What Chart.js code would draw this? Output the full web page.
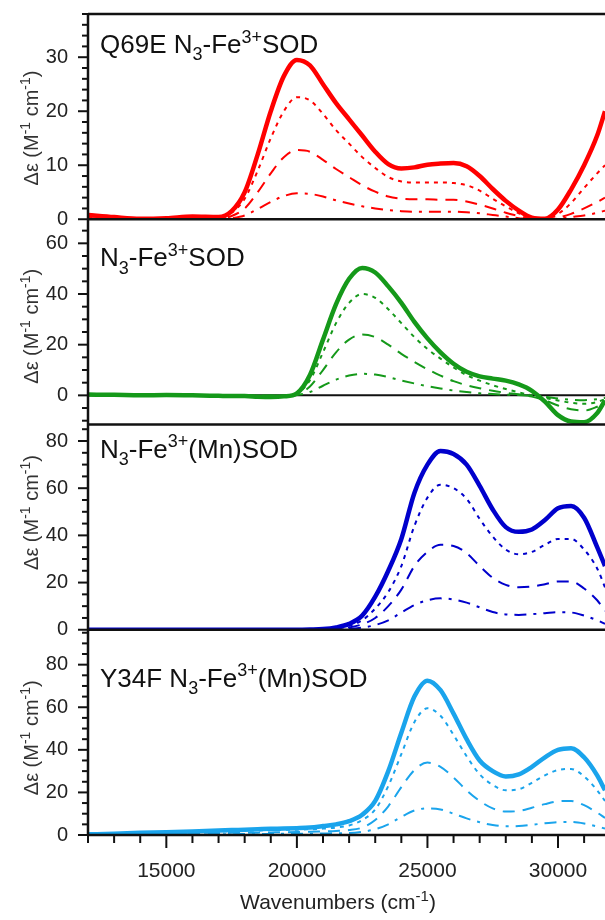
<!DOCTYPE html>
<html>
<head>
<meta charset="utf-8">
<script src="https://cdn.jsdelivr.net/npm/chart.js@4.4.1/dist/chart.umd.min.js"></script>
<style>
  html, body { margin: 0; padding: 0; background: #fff; }
</style>
</head>
<body>
<canvas id="cdChart" width="605" height="920"></canvas>
<script>
const wavenumbers = [
  12000, 13000, 14000, 15000, 16000, 17000,
  17500, 18000, 18500, 19000, 19500,
  20000, 20500, 21000, 21500, 22000,
  22500, 23000, 23500, 24000, 24500,
  25000, 25500, 26000, 26500, 27000,
  27500, 28000, 28500, 29000, 29500,
  30000, 30500, 31000, 31500, 31800
];
const xTickLabels = [15000, 20000, 25000, 30000];

// Q69E N3-Fe3+SOD
const q69eSolid = [0.8, 0.4, 0.1, 0.2, 0.5, 0.4, 1.5, 5, 12, 20, 26.5, 29.5, 28.5, 25, 21.5, 18.5, 15.5, 12.5, 10.2, 9.4, 9.6, 10.1, 10.3, 10.4, 9.8, 8, 5.6, 3.4, 1.6, 0.3, 0.1, 1.8, 5.5, 10, 15.5, 20];
const q69eDotted = [0.3, 0.2, 0.1, 0.1, 0.2, 0.2, 1.2, 3.8, 9, 15, 20, 22.6, 22, 19.5, 16.5, 14, 11.5, 9.5, 7.8, 7, 6.8, 6.8, 6.8, 6.7, 6.3, 5.3, 3.8, 2.4, 1.1, 0.3, 0.1, 1, 3, 5.8, 8.5, 10];
const q69eDashed = [0.2, 0.1, 0, 0, 0.1, 0.1, 0.6, 2, 5, 8.5, 11.5, 12.8, 12.5, 11, 9.3, 7.8, 6.3, 5.1, 4.2, 3.8, 3.7, 3.7, 3.6, 3.6, 3.3, 2.7, 2, 1.2, 0.6, 0.1, 0, 0.3, 1, 2, 3.2, 4];
const q69eDashDot = [0.1, 0, 0, 0, 0, 0, 0.2, 0.7, 1.9, 3.2, 4.3, 4.8, 4.7, 4.2, 3.5, 2.9, 2.4, 2, 1.7, 1.5, 1.4, 1.4, 1.4, 1.4, 1.3, 1.1, 0.8, 0.5, 0.2, 0, 0, 0.1, 0.4, 0.7, 1.2, 1.6];

// N3-Fe3+SOD
const wtSolid = [0.3, 0.2, 0, 0.1, 0, -0.2, -0.3, -0.3, -0.5, -0.6, -0.4, 0.8, 8, 22, 36, 46, 50.3, 48.5, 43, 36.5, 29, 22.5, 17, 12.5, 9.3, 7.5, 6.6, 5.8, 4.3, 1.8, -2.5, -7.8, -10.3, -10.6, -7, -2];
const wtDotted = [0.2, 0.1, 0, 0.1, 0, -0.1, -0.2, -0.2, -0.3, -0.4, -0.3, 0.6, 6, 17, 28.5, 36.5, 40, 38.5, 34, 28.5, 23, 18.3, 14.5, 11, 8, 5.8, 4, 2.5, 1.2, 0, -1, -2, -2.9, -3.3, -2.6, -1.5];
const wtDashed = [0.1, 0, 0, 0, 0, -0.1, -0.1, -0.1, -0.2, -0.2, -0.2, 0.3, 3.5, 10, 17, 22, 24, 23, 20, 16.4, 13.2, 10.3, 7.8, 5.6, 4, 2.8, 1.8, 1, 0.4, -0.5, -2, -4, -5.5, -6, -4.5, -3];
const wtDashDot = [0, 0, 0, 0, 0, 0, 0, 0, -0.1, -0.1, -0.1, 0.1, 1.3, 3.8, 6.2, 7.8, 8.5, 8.2, 7.2, 5.9, 4.7, 3.6, 2.7, 1.9, 1.3, 0.8, 0.5, 0.3, 0.1, -0.2, -0.6, -1.2, -1.7, -1.9, -1.5, -1];

// N3-Fe3+(Mn)SOD
const mnSolid = [0, 0, 0, 0, 0, 0, 0, 0, 0, 0, 0, 0, 0.1, 0.3, 1, 2.5, 6, 14, 25, 38.5, 58, 70, 75.8, 74.5, 70, 61, 51, 43.5, 41.5, 42.5, 46.5, 51.5, 52.5, 47.5, 35, 27];
const mnDotted = [0, 0, 0, 0, 0, 0, 0, 0, 0, 0, 0, 0, 0, 0.1, 0.5, 1.7, 4, 9, 16, 27, 44, 56, 61.5, 60, 55.5, 47, 39.5, 34, 32, 33, 36, 38.5, 38.5, 34, 26, 18];
const mnDashed = [0, 0, 0, 0, 0, 0, 0, 0, 0, 0, 0, 0, 0, 0.1, 0.3, 1, 2.3, 5, 10, 17, 27, 33, 36, 35.5, 32.5, 27, 22, 19, 18, 18.3, 19.3, 20.5, 20.5, 17.5, 12.5, 8];
const mnDashDot = [0, 0, 0, 0, 0, 0, 0, 0, 0, 0, 0, 0, 0, 0, 0.1, 0.4, 0.9, 2, 4, 7.3, 10.5, 12.5, 13.3, 12.8, 11.5, 9.5, 7.5, 6.5, 6.3, 6.6, 7, 7.4, 7.3, 6, 4, 2.5];

// Y34F N3-Fe3+(Mn)SOD
const y34fSolid = [0.3, 0.6, 1, 1.3, 1.7, 2.1, 2.3, 2.5, 2.7, 2.9, 3, 3.2, 3.5, 4.2, 5, 6.5, 9.5, 16, 30, 48, 65, 72.5, 68, 57, 45, 35, 30, 27.5, 28.5, 32, 36.5, 40, 40.8, 36.5, 28, 21];
const y34fDotted = [0.2, 0.4, 0.7, 1, 1.3, 1.6, 1.8, 2, 2.1, 2.3, 2.4, 2.5, 2.7, 3, 3.5, 4.5, 7, 12, 23, 38, 53, 59.5, 56, 47, 37, 28.5, 23.5, 21, 21.5, 24.5, 28, 30.5, 31, 27.5, 21, 16];
const y34fDashed = [0.1, 0.2, 0.4, 0.6, 0.8, 0.9, 1, 1, 1.1, 1.2, 1.3, 1.4, 1.5, 1.7, 1.9, 2.3, 3.5, 7, 13.5, 22.5, 30.5, 34, 32, 27, 21, 16, 12.5, 11, 11.3, 12.8, 14.5, 15.8, 16, 14, 10.5, 8];
const y34fDashDot = [0, 0.1, 0.2, 0.3, 0.3, 0.4, 0.4, 0.5, 0.5, 0.5, 0.6, 0.6, 0.6, 0.7, 0.8, 0.9, 1.5, 2.7, 5, 8.5, 11.5, 12.5, 12, 10, 7.8, 6, 4.7, 4.1, 4.2, 4.8, 5.5, 6, 6.1, 5.4, 4, 3];

const FONT = "'Liberation Sans', Arial, sans-serif";

// panels top to bottom
const panels = [
  { id: 'yA', color: '#ff0000', min: 0, max: 38, major: 10, minor: 2,
    series: [q69eSolid, q69eDotted, q69eDashed, q69eDashDot],
    label: [['Q69E N', ''], ['3', 'sub'], ['-Fe', ''], ['3+', 'sup'], ['SOD', '']], labelY: 39, titleY: 114 },
  { id: 'yB', color: '#15991a', min: -11.5, max: 69.5, major: 20, minor: 5, zeroLine: true,
    series: [wtSolid, wtDotted, wtDashed, wtDashDot],
    label: [['N', ''], ['3', 'sub'], ['-Fe', ''], ['3+', 'sup'], ['SOD', '']], labelY: 47, titleY: 107 },
  { id: 'yC', color: '#0000cc', min: 0, max: 87, major: 20, minor: 5,
    series: [mnSolid, mnDotted, mnDashed, mnDashDot],
    label: [['N', ''], ['3', 'sub'], ['-Fe', ''], ['3+', 'sup'], ['(Mn)SOD', '']], labelY: 33, titleY: 88 },
  { id: 'yD', color: '#1aa4ec', min: 0, max: 96.4, major: 20, minor: 5,
    series: [y34fSolid, y34fDotted, y34fDashed, y34fDashDot],
    label: [['Y34F N', ''], ['3', 'sub'], ['-Fe', ''], ['3+', 'sup'], ['(Mn)SOD', '']], labelY: 57, titleY: 108 }
];

const lineStyles = [
  { width: 4.5, dash: [] },
  { width: 2, dash: [4, 5] },
  { width: 2, dash: [12, 8] },
  { width: 2, dash: [12, 7, 3, 7] }
];

const yTitle = [['\u0394\u03b5 (M', ''], ['-1', 'sup'], [' cm', ''], ['-1', 'sup'], [')', '']];
const xTitle = [['Wavenumbers (cm', ''], ['-1', 'sup'], [')', '']];

function drawRich(ctx, x, y, parts, size, align) {
  const fontOf = kind => (kind ? Math.round(size * 0.7) : size) + 'px ' + FONT;
  const widths = parts.map(([t, k]) => { ctx.font = fontOf(k); return ctx.measureText(t).width; });
  const total = widths.reduce((a, b) => a + b, 0);
  let cx = align === 'center' ? x - total / 2 : x;
  parts.forEach(([t, k], i) => {
    ctx.font = fontOf(k);
    const dy = k === 'sub' ? size * 0.28 : k === 'sup' ? -size * 0.4 : 0;
    ctx.fillText(t, cx, y + dy);
    cx += widths[i];
  });
}

function line(ctx, x1, y1, x2, y2) {
  ctx.beginPath();
  ctx.moveTo(x1, y1);
  ctx.lineTo(x2, y2);
  ctx.stroke();
}

const framePlugin = {
  id: 'frame',
  beforeDatasetsDraw(chart) {
    const { ctx, chartArea } = chart;
    ctx.save();
    ctx.strokeStyle = '#111';
    ctx.lineWidth = 2;
    panels.filter(p => p.zeroLine).forEach(p => {
      const y0 = chart.scales[p.id].getPixelForValue(0);
      line(ctx, chartArea.left, y0, chartArea.right, y0);
    });
    ctx.restore();
  },
  afterDraw(chart) {
    const { ctx, chartArea } = chart;
    const xs = chart.scales.x;
    const left = chartArea.left;
    ctx.save();
    ctx.strokeStyle = '#111';
    ctx.fillStyle = '#111';
    ctx.lineWidth = 2.5;

    // frame: top border, panel boundaries, left axis
    line(ctx, left, chartArea.top, chartArea.right, chartArea.top);
    panels.forEach(p => {
      const s = chart.scales[p.id];
      line(ctx, left, s.bottom, chartArea.right, s.bottom);
    });
    line(ctx, left, chartArea.top, left, chartArea.bottom);

    // y ticks
    ctx.lineWidth = 2;
    panels.forEach(p => {
      const s = chart.scales[p.id];
      const first = Math.ceil(p.min / p.minor);
      const last = Math.floor(p.max / p.minor);
      for (let k = first; k <= last; k++) {
        const v = k * p.minor;
        const py = s.getPixelForValue(v);
        const isMajor = Math.abs(v / p.major - Math.round(v / p.major)) < 1e-6;
        line(ctx, left - (isMajor ? 10 : 6), py, left, py);
      }
    });

    // x ticks and labels
    for (let v = 12000; v <= xs.max; v += 1000) {
      const px = xs.getPixelForValue(v);
      line(ctx, px, chartArea.bottom, px, chartArea.bottom + (v % 5000 === 0 ? 13 : 8));
    }
    ctx.fillStyle = '#222';
    ctx.font = '21px ' + FONT;
    ctx.textAlign = 'center';
    ctx.textBaseline = 'alphabetic';
    xTickLabels.forEach(v => {
      ctx.fillText(String(v), xs.getPixelForValue(v), 877);
    });
    ctx.textAlign = 'left';

    // panel labels and y titles
    panels.forEach(p => {
      const s = chart.scales[p.id];
      ctx.fillStyle = '#111';
      drawRich(ctx, 100, s.top + p.labelY, p.label, 26, 'left');
      ctx.save();
      ctx.fillStyle = '#333';
      ctx.translate(38, s.top + p.titleY);
      ctx.rotate(-Math.PI / 2);
      drawRich(ctx, 0, 0, yTitle, 20, 'center');
      ctx.restore();
    });

    ctx.fillStyle = '#222';
    drawRich(ctx, 338, 909, xTitle, 21, 'center');
    ctx.restore();
  }
};

function buildDatasets() {
  const sets = [];
  panels.forEach(p => {
    p.series.forEach((values, i) => {
      sets.push({
        data: wavenumbers.map((x, j) => ({ x, y: values[j] })),
        yAxisID: p.id,
        borderColor: p.color,
        borderWidth: lineStyles[i].width,
        borderDash: lineStyles[i].dash,
        borderCapStyle: 'butt',
        pointRadius: 0,
        fill: false,
        tension: 0.4,
        cubicInterpolationMode: 'monotone',
        order: 4 - i
      });
    });
  });
  return sets;
}

function yScale(p) {
  return {
    type: 'linear',
    position: 'left',
    stack: 'panels',
    stackWeight: 1,
    min: p.min,
    max: p.max,
    grid: { display: false, drawTicks: false },
    border: { display: false },
    ticks: {
      stepSize: p.major,
      includeBounds: false,
      padding: 20,
      color: '#222',
      font: { family: FONT, size: 20 },
      callback: v => (v % p.major === 0 ? String(v) : '')
    },
    afterFit: s => {
      s.width = 88;
      s.paddingTop = 0;
      s.paddingBottom = 0;
    }
  };
}

const scales = {
  x: {
    type: 'linear',
    position: 'bottom',
    min: 12000,
    max: 31800,
    grid: { display: false, drawTicks: false },
    border: { display: false },
    ticks: { display: false, stepSize: 5000, includeBounds: false },
    afterFit: s => {
      s.height = 85;
      s.paddingLeft = 0;
      s.paddingRight = 0;
    }
  }
};
// stacked axes are laid out bottom first
[...panels].reverse().forEach(p => { scales[p.id] = yScale(p); });

new Chart(document.getElementById('cdChart'), {
  type: 'line',
  data: { datasets: buildDatasets() },
  options: {
    responsive: false,
    animation: false,
    devicePixelRatio: 1,
    layout: { padding: { top: 14, left: 0, right: 0, bottom: 0 } },
    scales,
    plugins: { legend: { display: false }, tooltip: { enabled: false } }
  },
  plugins: [framePlugin]
});
</script>
</body>
</html>
